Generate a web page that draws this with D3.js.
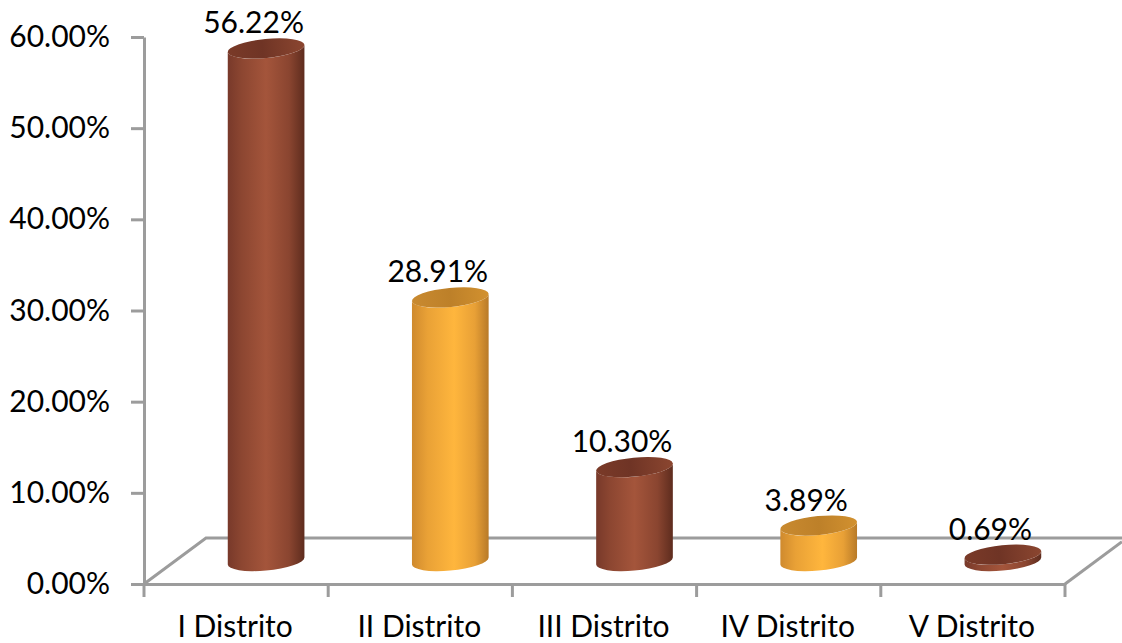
<!DOCTYPE html>
<html><head><meta charset="utf-8">
<script src="https://cdn.jsdelivr.net/npm/d3@7"></script>
<style>html,body{margin:0;padding:0;background:#fff;overflow:hidden}svg{display:block}text{font-family:Lato,"Open Sans",sans-serif;fill:#000}</style>
</head><body><svg id="c" width="1122" height="643"></svg>
<script>
const categories = ["I Distrito","II Distrito","III Distrito","IV Distrito","V Distrito"];
const values = [56.22,28.91,10.30,3.89,0.69];
const labels = ["56.22%","28.91%","10.30%","3.89%","0.69%"];
const yTicks = [0,10,20,30,40,50,60];
const palettes = ["brown","orange","brown","orange","brown"];

const svg = d3.select("#c");
const W=1122, x0=144, x1=1065, y0=584, y1=37;
const dx=62, dy=-46;            // depth of the 3D floor
const x = d3.scaleBand().domain(categories).range([x0,x1]);
const y = d3.scaleLinear().domain([0,60]).range([y0,y1]);
const GRAY="#9c9c9c";

// gradients
const defs = svg.append("defs");
const grad=(id,stops)=>{const g=defs.append("linearGradient").attr("id",id).attr("x1","0").attr("x2","1").attr("y1","0").attr("y2","0");
  stops.forEach(([o,c])=>g.append("stop").attr("offset",o).attr("stop-color",c));};
grad("brown-side",[[0,"#78392a"],[.18,"#8c4631"],[.5,"#a4553b"],[.8,"#8a4530"],[1,"#5e2c1e"]]);
grad("brown-top",[[0,"#7a3a28"],[.45,"#6f3425"],[1,"#8b4630"]]);
grad("orange-side",[[0,"#cf8a2e"],[.2,"#e9a136"],[.55,"#ffb63d"],[.82,"#e8a036"],[1,"#b87a28"]]);
grad("orange-top",[[0,"#c98a30"],[.5,"#bd8029"],[1,"#d2912f"]]);

// floor
const floor = svg.append("g").attr("fill","none").attr("stroke",GRAY).attr("stroke-width",3);
floor.append("path").attr("d",d3.line()([[x0,y0],[x0+dx,y0+dy],[W,y0+dy]]));
floor.append("path").attr("d",d3.line()([[x1,y0],[W,y0+dy*(W-x1)/dx]]));

// axes
const yAxis = d3.axisLeft(y).tickValues(yTicks).tickFormat(d=>d.toFixed(2)+"%").tickSize(13).tickSizeOuter(0).tickPadding(21);
const gy = svg.append("g").attr("transform",`translate(${x0},0)`).call(yAxis);
const xAxis = d3.axisBottom(x).tickSize(0).tickPadding(32);
const gx = svg.append("g").attr("transform",`translate(0,${y0})`).call(xAxis);
gx.selectAll(".tick line").remove();
gx.selectAll("line.sep").data([...categories.map(c=>x(c)),x1]).join("line").attr("class","sep")
  .attr("x1",d=>d).attr("x2",d=>d).attr("y1",0).attr("y2",13);
svg.selectAll(".domain,.tick line,line.sep").attr("stroke",GRAY).attr("stroke-width",3);
svg.selectAll(".tick text").style("font-size","30px").attr("fill","#000");
gx.selectAll(".tick text").attr("dx","-1");

// cylinders
const a=38.5, b=9.5, rot=-5.5, th=rot*Math.PI/180;
const t=Math.atan(-(b/a)*Math.tan(th));
const ex=a*Math.cos(t)*Math.cos(th)-b*Math.sin(t)*Math.sin(th);
const ey=a*Math.cos(t)*Math.sin(th)+b*Math.sin(t)*Math.cos(th);
const cx=d=>x(d.c)+x.bandwidth()/2+dx/2-1;
const topY=d=>y(d.v)+dy/2, botY=()=>y(0)+dy/2;
const data=categories.map((c,i)=>({c,v:values[i],l:labels[i],p:palettes[i]}));
const g=svg.selectAll("g.bar").data(data).join("g").attr("class","bar");
g.append("path").attr("fill",d=>`url(#${d.p}-side)`).attr("d",d=>{
  const X=cx(d),T=topY(d),B=botY();
  return `M${X-ex},${T-ey}L${X-ex},${B-ey}A${a},${b} ${rot} 0 0 ${X+ex},${B+ey}L${X+ex},${T+ey}A${a},${b} ${rot} 0 1 ${X-ex},${T-ey}Z`;
});
g.append("ellipse").attr("rx",a).attr("ry",b).attr("fill",d=>`url(#${d.p}-top)`)
  .attr("transform",d=>`translate(${cx(d)},${topY(d)}) rotate(${rot})`);
g.append("text").attr("text-anchor","middle").style("font-size","30px")
  .attr("x",d=>cx(d)-12.5).attr("y",d=>topY(d)-15).text(d=>d.l);
</script></body></html>
